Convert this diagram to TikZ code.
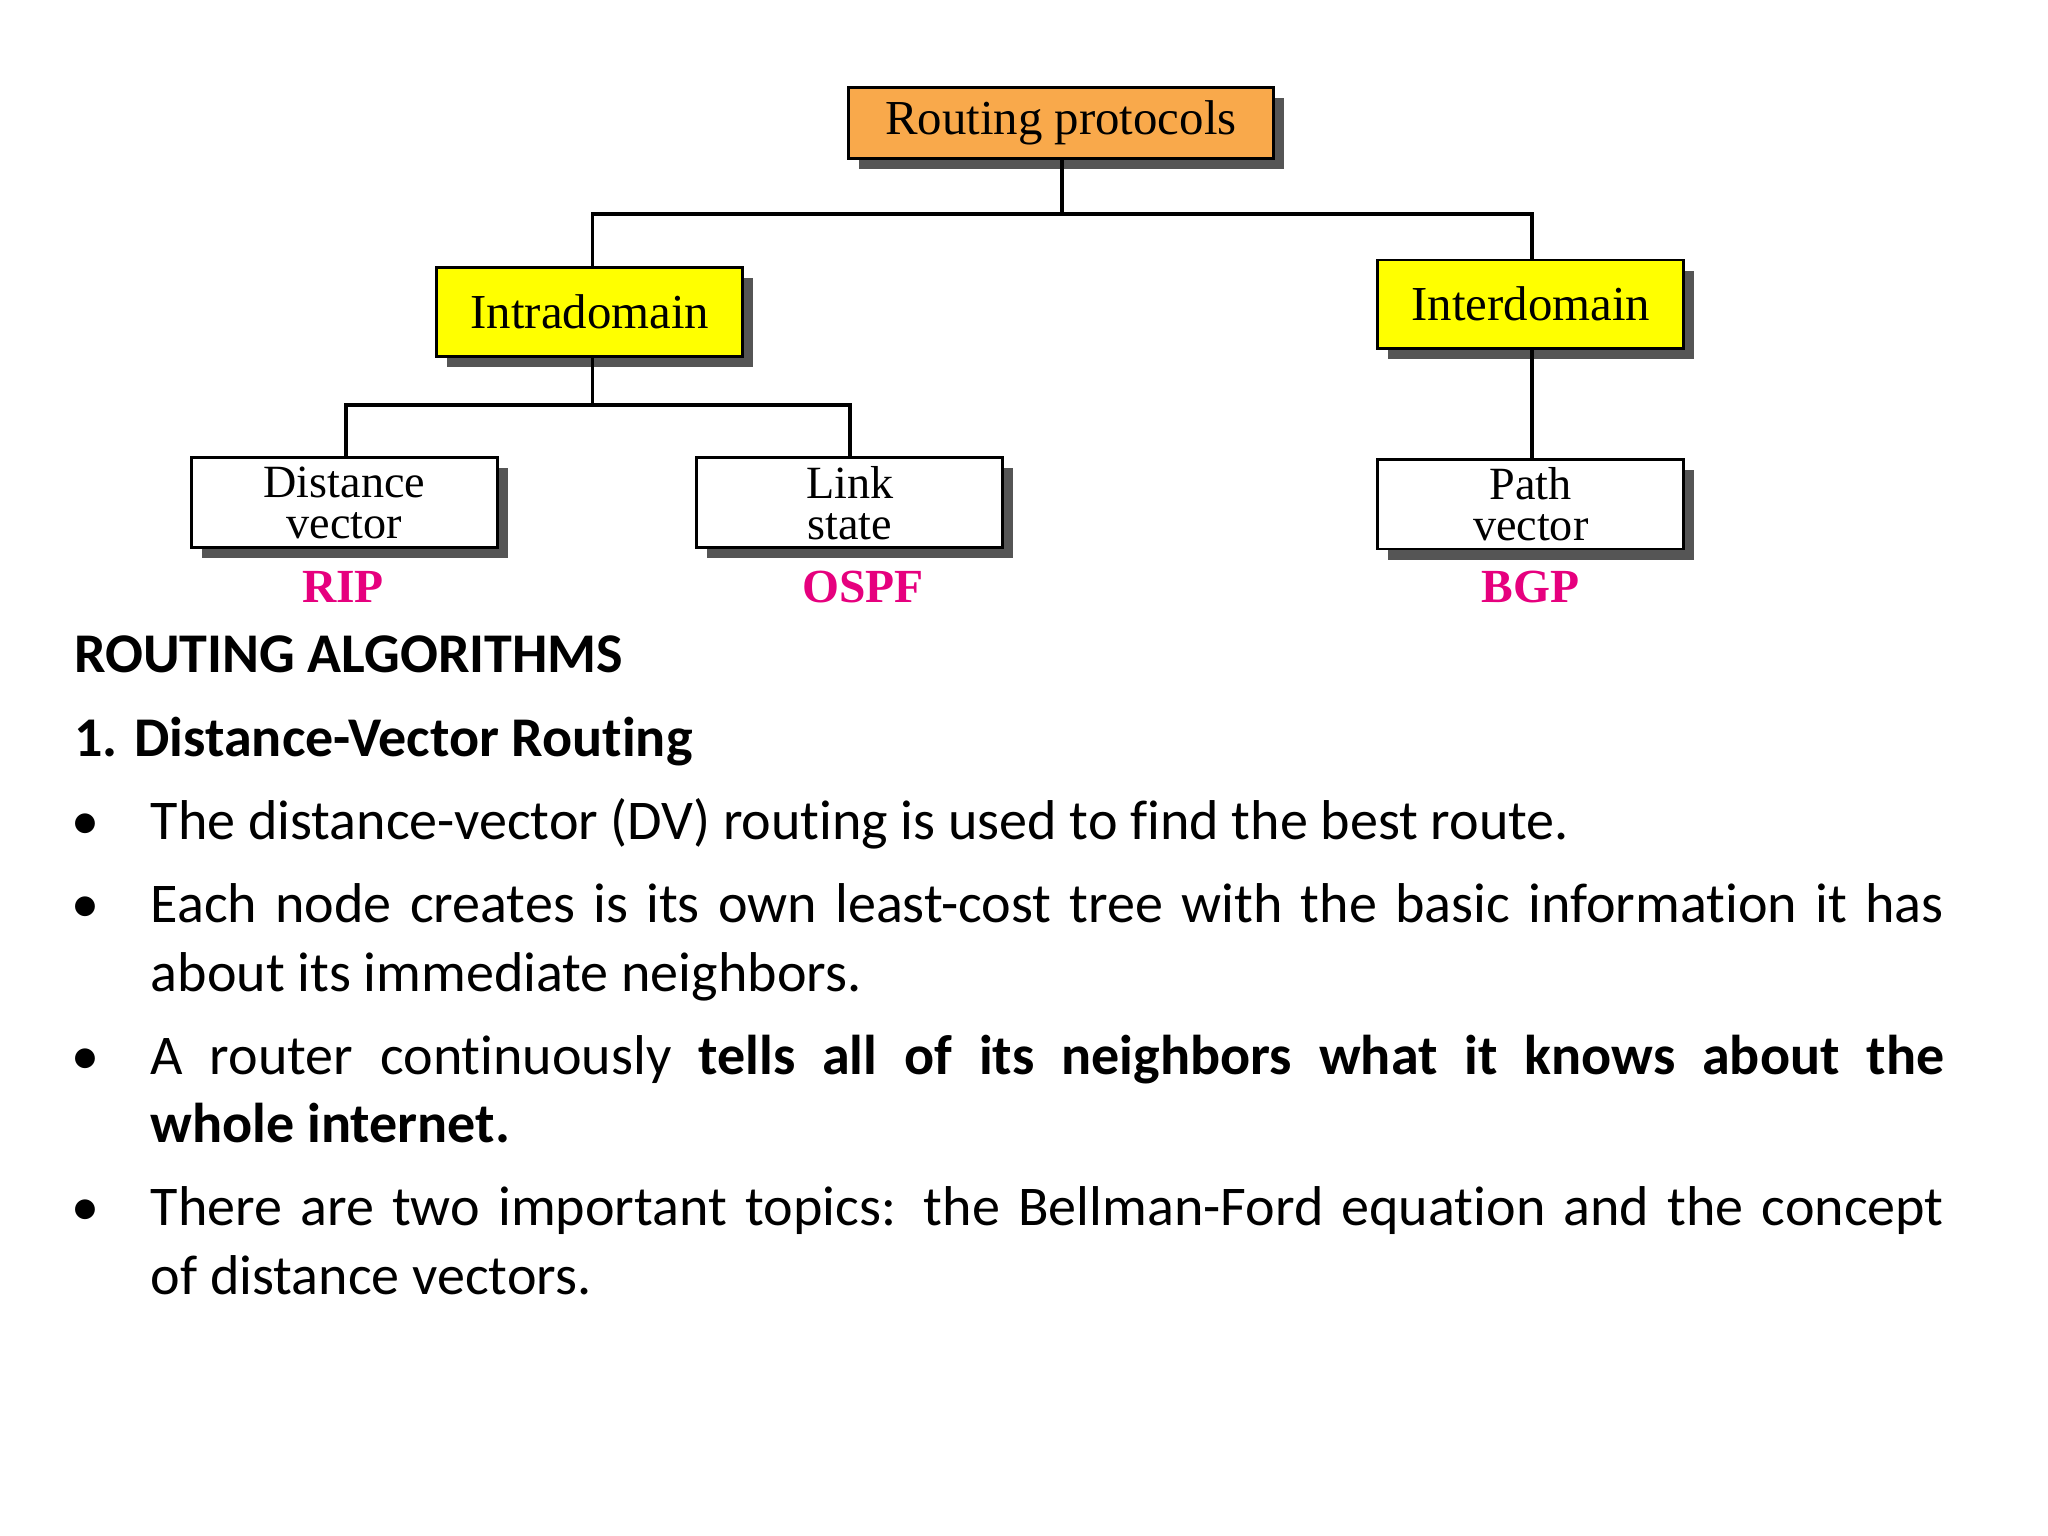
\documentclass[tikz,border=0pt]{standalone}
\usepackage{fontspec}
\setmainfont{Carlito}[Ligatures=NoCommon]
\newfontfamily\serifdia{Liberation Serif}
\definecolor{orng}{HTML}{F9A94B}
\definecolor{yel}{HTML}{FFFF00}
\definecolor{mag}{HTML}{E6007E}
\definecolor{shad}{HTML}{555555}
\begin{document}
\begin{tikzpicture}[x=1pt,y=-1pt,
  box/.style={draw=black,line width=2.2pt,inner sep=0pt,align=center,font=\serifdia\fontsize{35}{31}\selectfont},
  conn/.style={line width=3pt,line cap=rect},
  proto/.style={text=mag,font=\serifdia\bfseries\fontsize{36}{36}\selectfont},
  txt/.style={anchor=base west,inner sep=0pt,font=\fontsize{42.5}{50}\selectfont}]
\useasboundingbox (0,0) rectangle (1552,1164);
\fill[white] (0,0) rectangle (1552,1164);
% shadows
\foreach \a/\b/\c/\d in {643/66/965/120, 331/203/563/270, 1044/197/1276/264, 145/347/377/415, 528/347/760/415, 1044/348/1276/416}
  \fill[shad] (\a+8,\b+8) rectangle (\c+8,\d+8);
\node[box,fill=orng,minimum width=322pt,minimum height=54pt,font=\serifdia\fontsize{37}{30}\selectfont] (rp) at (804,93) {Routing protocols};
\node[box,fill=yel,minimum width=232pt,minimum height=67pt,font=\serifdia\fontsize{37}{30}\selectfont] (intra) at (447,236.5) {Intradomain};
\node[box,fill=yel,minimum width=232pt,minimum height=67pt,font=\serifdia\fontsize{37}{30}\selectfont] (inter) at (1160,230.5) {Interdomain};
\node[box,fill=white,minimum width=232pt,minimum height=68pt] (dv) at (261,381) {Distance\\vector};
\node[box,fill=white,minimum width=232pt,minimum height=68pt] (ls) at (644,381) {Link\\state};
\node[box,fill=white,minimum width=232pt,minimum height=68pt] (pv) at (1160,382) {Path\\vector};
\coordinate (j1) at (805,162);
\coordinate (j2) at (449,307);
\draw[conn] (rp.south -| j1) -- (j1);
\draw[conn] (intra.north -| 449,0) |- (j1) -| (inter.north -| 1161,0);
\draw[conn] (intra.south -| j2) -- (j2);
\draw[conn] (dv.north -| 262,0) |- (j2) -| (ls.north -| 644,0);
\draw[conn] (inter.south -| 1161,0) -- (pv.north -| 1161,0);
\node[proto] (rip) at (260,445) {RIP};
\node[proto] (ospf) at (654,445) {OSPF};
\node[proto] (bgp) at (1160,445) {BGP};
% text
\node[txt] (h1) at (56,510) {\bfseries ROUTING ALGORITHMS};
\node[txt] (h2) at (56,573) {\bfseries 1. Distance-Vector Routing};
\foreach \y in {636,699,814,929} \node[txt] at (54,\y) {•};
\node[txt] (l1) at (114,636) {The distance-vector (DV) routing is used to find the best route.};
\node[txt] (l2) at (114,699) {\makebox[1359pt][s]{Each node creates is its own least-cost tree with the basic information it has}};
\node[txt] (l3) at (114,751) {about its immediate neighbors.};
\node[txt] (l4) at (114,814) {\makebox[1359pt][s]{A router continuously \bfseries tells all of its neighbors what it knows about the}};
\node[txt] (l5) at (114,866) {\bfseries whole internet.};
\node[txt] (l6) at (114,929) {\makebox[1359pt][s]{There are two important topics: the Bellman-Ford equation and the concept}};
\node[txt] (l7) at (114,981) {of distance vectors.};
\end{tikzpicture}
\end{document}
